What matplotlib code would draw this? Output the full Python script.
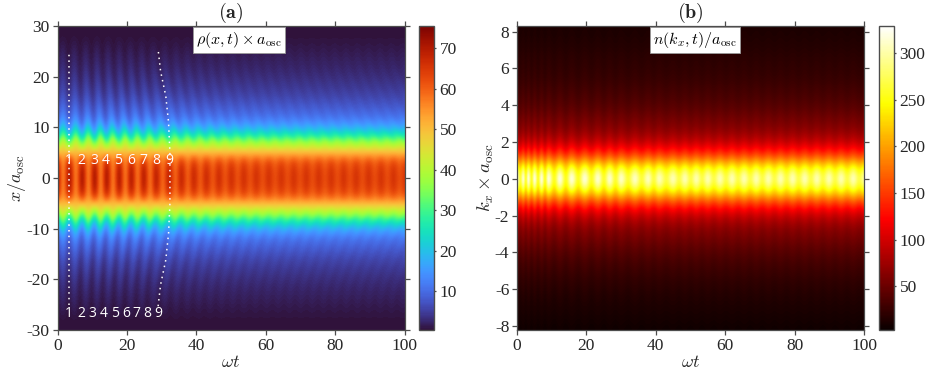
import numpy as np
import matplotlib
matplotlib.use("Agg")
import matplotlib.pyplot as plt

# --- values ---------------------------------------------------------------
# Left panel: half profile for |x| = 0, 1.5, ... 30 (long-time level, fringe size, fringe stretch)
rho_x_half = [0, 1.5, 3, 4.5, 6, 7.5, 9, 10.5, 12, 13.5, 15, 16.5, 18, 19.5, 21, 22.5, 24, 25.5, 27, 28.5, 30]
rho_base = [64, 63.5, 61.5, 54.5, 44, 34, 23, 15.5, 11, 8.8, 7, 5.5, 4.5, 3.6, 2.9, 2.3, 1.8, 1.3, 0.9, 0.6, 0.5]
rho_amp = [6, 6, 4.5, 1.5, -2, -5, -5, -3.6, -2.6, -2, -1.7, -1.5, -1.3, -1.2, -1, -0.8, -0.7, -0.5, -0.2, 0, 0]
rho_stretch = [1, 1, 1, 1, 1, 1, 1.01, 1.02, 1.03, 1.04, 1.05, 1.06, 1.07, 1.08, 1.09, 1.095, 1.10, 1.10, 1.10, 1.10, 1.10]
# Times of the density maxima at the trap centre and their relative strength
rho_fringe_t = [-0.4, 3.2, 6.9, 10.5, 14, 17.6, 21.1, 24.7, 28.3, 32, 35.6, 39.2, 42.8, 46.4, 50, 53.6, 57.2,
                60.8, 64.4, 68, 71.6, 75.2, 78.8, 82.4, 86, 89.6, 93.2, 96.8, 100.4, 104, 107.6, 111.2, 114.8]
rho_fringe_s = [1, 1, 1, 1, 0.95, 0.9, 0.85, 0.8, 0.7, 0.65, 0.55, 0.48, 0.42, 0.38, 0.35, 0.32, 0.3,
                0.28, 0.27, 0.27, 0.27, 0.27, 0.27, 0.27, 0.27, 0.27, 0.27, 0.27, 0.27, 0.27, 0.27, 0.27, 0.27]
# Right panel: profile for k = -8.4, -8.0, ... 8.4
n_k = [-8.4, -8.0, -7.6, -7.2, -6.8, -6.4, -6.0, -5.6, -5.2, -4.8, -4.4, -4.0, -3.6, -3.2, -2.8, -2.4, -2.0, -1.6, -1.2, -0.8, -0.4,
       0, 0.4, 0.8, 1.2, 1.6, 2.0, 2.4, 2.8, 3.2, 3.6, 4.0, 4.4, 4.8, 5.2, 5.6, 6.0, 6.4, 6.8, 7.2, 7.6, 8.0, 8.4]
n_base = [6, 7, 9, 11, 13, 15, 18, 21, 25, 29, 34, 40, 47, 55, 63, 76, 95, 125, 165, 220, 268,
          295, 268, 220, 165, 125, 95, 76, 63, 55, 47, 40, 35, 31, 27, 24, 22, 20, 18, 16, 14, 13, 11]
n_amp = [1, 1, 1, 1, 1, 2, 2, 2, 2, 3, 3, 3, 4, 4, 5, 6, 8, 10, 10, 12, 26,
         36, 26, 12, 10, 10, 8, 6, 5, 4, 4, 3, 3, 3, 2, 2, 2, 2, 1, 1, 1, 1, 1]
n_fringe_t = [0, 1.7, 3.2, 5, 7, 9, 12.3, 15.7, 19.5, 23.3, 26.7, 30, 34, 37.8, 41, 45, 48.4, 51.7, 55, 58.5,
              62, 65.5, 69, 72.5, 76, 79.5, 83, 86.5, 90, 93.5, 97, 100.5]
n_fringe_s = [0.8, 1, 1, 1, 1, 1, 1, 0.95, 0.9, 0.85, 0.8, 0.75, 0.7, 0.65, 0.6, 0.55, 0.55, 0.55, 0.55, 0.55,
              0.55, 0.55, 0.55, 0.55, 0.55, 0.55, 0.55, 0.55, 0.55, 0.55, 0.55, 0.55]
# Dotted guide lines and their fringe labels
dots1_t = [3.4, 3.4]
dots1_x = [-25, 25]
dots2_t = [29, 29.7, 31.2, 32, 32.4, 32.4, 32, 31.2, 29.7, 29]
dots2_x = [-25.3, -21.1, -16.2, -11, -5, 5, 11, 16.2, 21.1, 25.3]
labels_top_t = [3.2, 6.8, 10.5, 14, 17.5, 21.1, 24.8, 28.4, 32.2]
labels_bot_t = [3.3, 6.9, 10, 13.2, 16.5, 19.7, 22.8, 26, 29]
fringe_labels = ["1", "2", "3", "4", "5", "6", "7", "8", "9"]
wave = [1, 0.7, 0, -0.7, -1, -0.7, 0, 0.7]
xticks = [0, 20, 40, 60, 80, 100]
yticks_l = [-30, -20, -10, 0, 10, 20, 30]
yticks_r = [-8, -6, -4, -2, 0, 2, 4, 6, 8]
cticks_l = [10, 20, 30, 40, 50, 60, 70]
cticks_r = [50, 100, 150, 200, 250, 300]

plt.rcParams.update({
    "font.family": "Liberation Serif", "mathtext.fontset": "cm",
    "axes.unicode_minus": False, "font.size": 12,
})
W, H = 926, 380
GR = "#4d4d4d"
TXT = "#262626"


def nodes(times, strength):
    tn, sv = [], []
    for k in range(len(times) - 1):
        for p, w in enumerate(wave):
            tn.append(times[k] + p / len(wave) * (times[k + 1] - times[k]))
            sv.append(w * strength[k])
    return np.array(tn), np.array(sv)


tgrid = np.arange(0, 100.01, 0.2)

# left matrix
x_half = np.array(rho_x_half)
xs = np.r_[-x_half[:0:-1], x_half]
mir = lambda a: np.r_[np.array(a)[:0:-1], np.array(a)]
b, a, st = mir(rho_base), mir(rho_amp), mir(rho_stretch)
tn, sv = nodes(rho_fringe_t, rho_fringe_s)
rho = np.array([b[i] + a[i] * np.interp(tgrid * st[i], tn, sv) for i in range(len(xs))])

# right matrix
tn2, sv2 = nodes(n_fringe_t, n_fringe_s)
nb, na = np.array(n_base, float), np.array(n_amp, float)
nm = np.array([nb[i] + na[i] * np.interp(tgrid, tn2, sv2) for i in range(len(n_k))])

fig = plt.figure(figsize=(W / 100, H / 100), dpi=100)


def axpos(l, r, t=26, bt=330):
    return [l / W, 1 - bt / H, (r - l) / W, (bt - t) / H]


def style(ax, yt):
    ax.set_xlim(0, 100)
    ax.set_xticks(xticks)
    ax.set_yticks(yt)
    ax.tick_params(direction="out", length=3.5, width=0.9, color=GR, labelcolor=TXT, labelsize=12.5,
                   top=True, right=True, pad=2)
    for s in ax.spines.values():
        s.set_color(GR)
        s.set_linewidth(0.9)


def cbar(im, pos, ticks):
    cax = fig.add_axes(pos)
    c = fig.colorbar(im, cax=cax)
    c.set_ticks(ticks)
    c.ax.tick_params(length=1.5, width=0.9, color=GR, labelcolor=TXT, labelsize=12.5, pad=2.5)
    c.outline.set_edgecolor(GR)
    c.outline.set_linewidth(1)
    return c


ax1 = fig.add_axes(axpos(57.5, 404.5))
im1 = ax1.imshow(rho, origin="lower", aspect="auto", cmap="turbo", vmin=0.5, vmax=75.5,
                 extent=[0, 100, -30.75, 30.75], interpolation="bicubic", interpolation_stage="data")
ax1.set_ylim(-30, 30)
style(ax1, yticks_l)
ax1.plot(dots1_t, dots1_x, color="white", lw=1.1, ls=(0, (1, 2.7)))
ax1.plot(dots2_t, dots2_x, color="white", lw=1.1, ls=(0, (1, 2.7)))
for t, s in zip(labels_top_t, fringe_labels):
    ax1.text(t, 3.4, s, color="white", ha="center", va="center", fontsize=10, family="Open Sans")
for t, s in zip(labels_bot_t, fringe_labels):
    ax1.text(t, -26.8, s, color="white", ha="center", va="center", fontsize=10, family="Open Sans")
ax1.set_xlabel(r"$\omega t$", fontsize=13, color=TXT, labelpad=0)
ax1.set_ylabel(r"$x/a_{\rm osc}$", fontsize=13, color=TXT, labelpad=-1)
ax1.set_title(r"$(\mathbf{a})$", fontsize=14.5, color=TXT, pad=6)
ax1.text(0.523, 0.954, r"$\rho(x,t)\times a_{\rm osc}$", transform=ax1.transAxes, ha="center", va="center",
         fontsize=11.5, color="black", bbox=dict(fc="white", ec="#999999", lw=0.6, pad=2))
cbar(im1, axpos(419, 434), cticks_l)

ax2 = fig.add_axes(axpos(517, 864))
im2 = ax2.imshow(nm, origin="lower", aspect="auto", cmap="hot", vmin=3, vmax=329,
                 extent=[0, 100, -8.6, 8.6], interpolation="bicubic", interpolation_stage="data")
ax2.set_ylim(-8.22, 8.3)
style(ax2, yticks_r)
ax2.set_xlabel(r"$\omega t$", fontsize=13, color=TXT, labelpad=0)
ax2.set_ylabel(r"$k_x\times a_{\rm osc}$", fontsize=13.5, color=TXT, labelpad=-1)
ax2.set_title(r"$(\mathbf{b})$", fontsize=14.5, color=TXT, pad=6)
ax2.text(0.513, 0.954, r"$n(k_x,t)/a_{\rm osc}$", transform=ax2.transAxes, ha="center", va="center",
         fontsize=11.5, color="black", bbox=dict(fc="white", ec="#999999", lw=0.6, pad=2))
cbar(im2, axpos(879, 894), cticks_r)

fig.savefig("out.png", dpi=100)
